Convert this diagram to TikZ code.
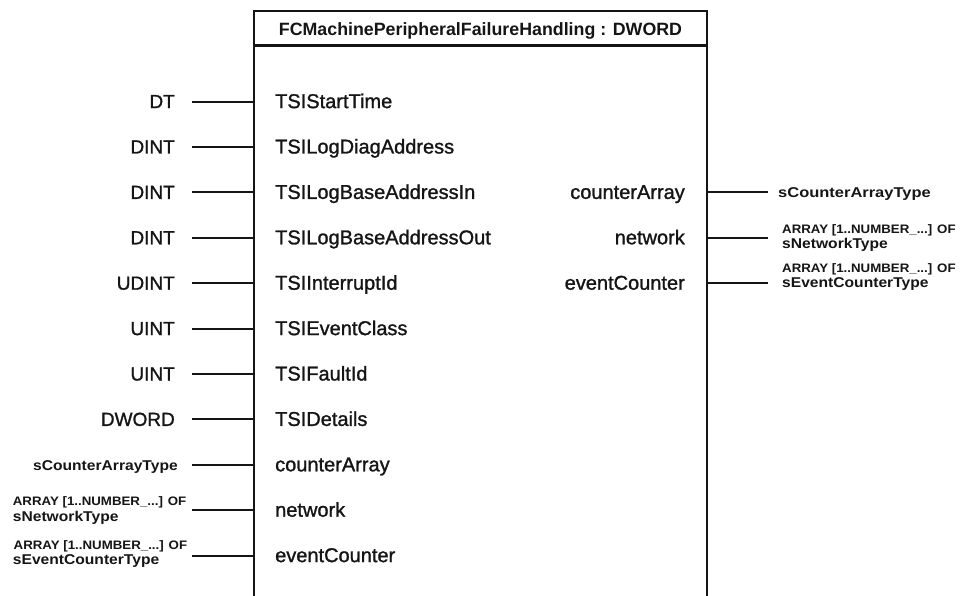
\documentclass[tikz,border=0pt]{standalone}
\usepackage{fontspec}
\setmainfont{Liberation Sans}
\newfontfamily\medfont[FakeBold=1.2]{Liberation Sans}
\definecolor{ink}{HTML}{151515}
\newcommand{\arrtxt}{\scalebox{1.08}[1]{ARRAY [1..NUMBER\_...] OF}}
\newcommand{\sttxt}[1]{\scalebox{1.1}[1]{#1}}
\begin{document}
\begin{tikzpicture}[x=1pt,y=-1pt,
  wire/.style={line width=2pt, draw=ink},
  frame/.style={line width=2.6pt, draw=ink},
  pinname/.style={inner sep=0pt, text=ink, font=\medfont\fontsize{20}{24}\selectfont},
  typename/.style={anchor=base east, inner sep=0pt, text=ink, font=\medfont\fontsize{19}{23}\selectfont},
  arrline/.style={anchor=base west, inner sep=0pt, text=ink, font=\bfseries\fontsize{12.3}{15}\selectfont},
  structline/.style={inner sep=0pt, text=ink, font=\bfseries\fontsize{14.2}{18}\selectfont},
  titletext/.style={anchor=base, inner sep=0pt, text=ink, font=\bfseries\fontsize{17.8}{21}\selectfont}]
\useasboundingbox[fill=white] (0,0) rectangle (961,596);

% block frame
\coordinate (BL) at (254,597);
\coordinate (TL) at (254,11);
\coordinate (TR) at (707,11);
\coordinate (BR) at (707,597);
\coordinate (SL) at (254,45.3);
\coordinate (SR) at (707,45.3);
\draw[frame] (BL) -- (TL) -- (TR) -- (BR);
\draw[frame] (SL) -- (SR);
\node[titletext] (title) at (480.5,36) {FCMachinePeripheralFailureHandling : DWORD};

% inputs
\foreach \i/\ty/\nm in {0/DT/TSIStartTime, 1/DINT/TSILogDiagAddress, 2/DINT/TSILogBaseAddressIn,
  3/DINT/TSILogBaseAddressOut, 4/UDINT/TSIInterruptId, 5/UINT/TSIEventClass,
  6/UINT/TSIFaultId, 7/DWORD/TSIDetails} {
  \pgfmathsetmacro\yy{101.6+45.4*\i}
  \coordinate (L\i) at (254,\yy);
  \coordinate (s\i) at (192,\yy);
  \node[pinname, anchor=base west] (n\i) at (275,\yy+6.5) {\nm};
  \node[typename] (t\i) at (175,\yy+6.5) {\ty};
  \draw[wire] (s\i) -- (L\i);
}
% struct inputs
\foreach \i/\nm in {8/counterArray, 9/network, 10/eventCounter} {
  \pgfmathsetmacro\yy{101.6+45.4*\i}
  \coordinate (L\i) at (254,\yy);
  \coordinate (s\i) at (192,\yy);
  \node[pinname, anchor=base west] (n\i) at (275,\yy+6.5) {\nm};
  \draw[wire] (s\i) -- (L\i);
}
\node[structline, anchor=base east] (t8) at (178,470.5) {\sttxt{sCounterArrayType}};
\node[arrline] (t9a) at (12.7,505.5) {\arrtxt};
\node[structline, anchor=base west] (t9b) at (12.7,521.5) {\sttxt{sNetworkType}};
\node[arrline] (t10a) at (13.5,549) {\arrtxt};
\node[structline, anchor=base west] (t10b) at (12.7,564.5) {\sttxt{sEventCounterType}};

% outputs
\foreach \i/\nm in {2/counterArray, 3/network, 4/eventCounter} {
  \pgfmathsetmacro\yy{101.6+45.4*\i}
  \coordinate (R\i) at (707,\yy);
  \coordinate (e\i) at (768,\yy);
  \node[pinname, anchor=base east] (o\i) at (685,\yy+6.5) {\nm};
  \draw[wire] (R\i) -- (e\i);
}
\node[structline, anchor=base west] (u2) at (778,197.5) {\scalebox{1.16}[1]{sCounterArrayType}};
\node[arrline] (u3a) at (782,233.5) {\arrtxt};
\node[structline, anchor=base west] (u3b) at (782,248.5) {\sttxt{sNetworkType}};
\node[arrline] (u4a) at (782,272.5) {\arrtxt};
\node[structline, anchor=base west] (u4b) at (782,287.5) {\sttxt{sEventCounterType}};
\end{tikzpicture}
\end{document}
